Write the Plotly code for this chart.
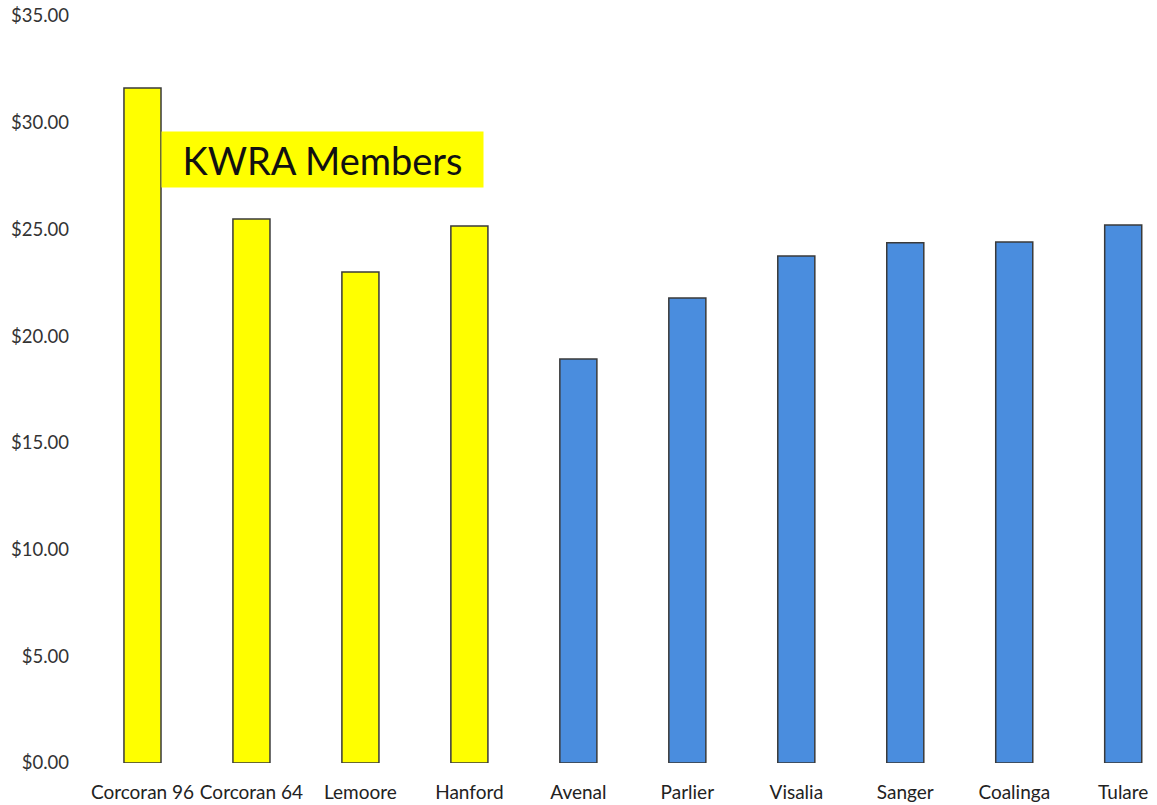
import plotly.graph_objects as go

categories = ["Corcoran 96", "Corcoran 64", "Lemoore", "Hanford", "Avenal",
              "Parlier", "Visalia", "Sanger", "Coalinga", "Tulare"]
values = [31.63, 25.49, 23.00, 25.16, 18.93, 21.79, 23.76, 24.37, 24.41, 25.21]
members = [True, True, True, True, False, False, False, False, False, False]
tick_vals = [0, 5, 10, 15, 20, 25, 30, 35]
tick_text = ["$%.2f" % v for v in tick_vals]

colors = ["#FFFF00" if m else "#4A8DDE" for m in members]

fig = go.Figure()
fig.add_trace(go.Bar(
    x=categories, y=values,
    marker=dict(color=colors, line=dict(color="#3a3a3a", width=1.5)),
    width=0.34,
))

fig.add_annotation(
    x=1.656, y=28.26, xref="x", yref="y",
    text="KWRA Members", showarrow=False,
    font=dict(family="Lato, Open Sans, sans-serif", size=38, color="#111111"),
    bgcolor="#FFFF00", borderpad=6, width=309, height=43, align="center",
    xanchor="center", yanchor="middle",
)

fig.update_layout(
    width=1157, height=805,
    margin=dict(l=88, r=0, t=16, b=42),
    paper_bgcolor="white", plot_bgcolor="white",
    showlegend=False,
    font=dict(family="Lato, Open Sans, sans-serif", color="#222222"),
    xaxis=dict(range=[-0.5, 9.31], showgrid=False, zeroline=False, showline=False,
               tickfont=dict(size=19), ticks="", ticklabelstandoff=16),
    yaxis=dict(range=[0, 35], tickvals=tick_vals, ticktext=tick_text,
               showgrid=False, zeroline=False, showline=False,
               tickfont=dict(size=18.5, color="#333333"), ticks="",
               ticklabelstandoff=18),
)

fig.write_html("out.html", config={"displayModeBar": False},
               post_script="document.body.style.margin='0px';document.body.style.overflow='hidden';")
